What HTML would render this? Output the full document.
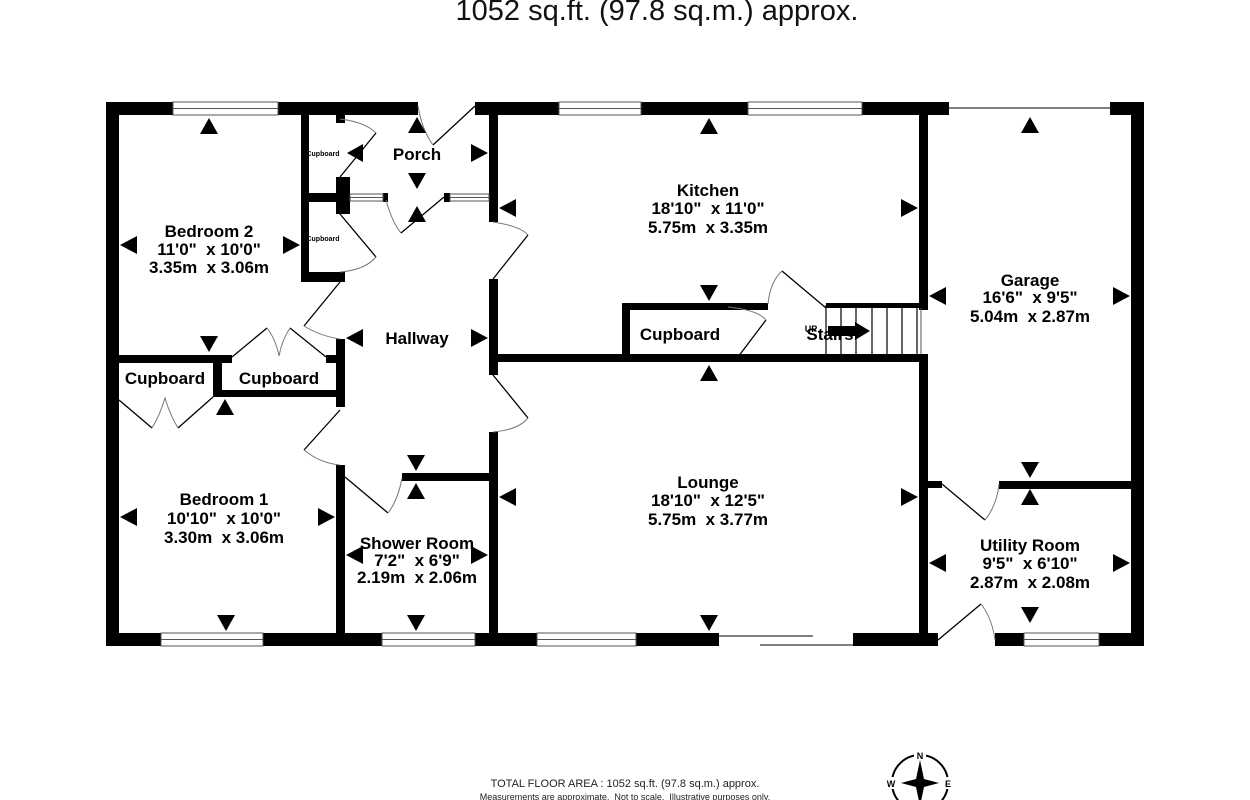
<!DOCTYPE html>
<html><head><meta charset="utf-8"><style>
html,body{margin:0;padding:0;background:#fff;}
svg{display:block;}
text{font-family:"Liberation Sans",sans-serif;white-space:pre;}
.r{font-weight:bold;font-size:17px;text-anchor:middle;fill:#000;}
</style></head><body>
<svg width="1250" height="800" viewBox="0 0 1250 800" xmlns="http://www.w3.org/2000/svg" xml:space="preserve">
<rect width="1250" height="800" fill="#fff"/>
<text x="657" y="20" font-size="29" text-anchor="middle" fill="#111">1052 sq.ft. (97.8 sq.m.) approx.</text>

<g fill="#000">
<rect x="106" y="102" width="67" height="13"/>
<rect x="278" y="102" width="140" height="13"/>
<rect x="475" y="102" width="84" height="13"/>
<rect x="641" y="102" width="107" height="13"/>
<rect x="862" y="102" width="87" height="13"/>
<rect x="1110" y="102" width="34" height="13"/>
<rect x="106" y="102" width="13" height="544"/>
<rect x="1131" y="102" width="13" height="544"/>
<rect x="106" y="633" width="55" height="13"/>
<rect x="263" y="633" width="119" height="13"/>
<rect x="475" y="633" width="62" height="13"/>
<rect x="636" y="633" width="83" height="13"/>
<rect x="853" y="633" width="85" height="13"/>
<rect x="995" y="633" width="29" height="13"/>
<rect x="1099" y="633" width="45" height="13"/>
<rect x="301" y="102" width="8" height="180"/>
<rect x="301" y="272" width="44" height="10"/>
<rect x="309" y="193" width="41" height="9"/>
<rect x="336" y="177" width="14" height="37"/>
<rect x="336" y="115" width="9" height="8"/>
<rect x="383" y="193" width="5" height="9"/>
<rect x="444" y="193" width="6" height="9"/>
<rect x="489" y="102" width="9" height="120"/>
<rect x="489" y="279" width="9" height="96"/>
<rect x="489" y="432" width="9" height="214"/>
<rect x="119" y="355" width="113" height="8"/>
<rect x="213" y="355" width="9" height="42"/>
<rect x="213" y="390" width="132" height="7"/>
<rect x="326" y="355" width="19" height="8"/>
<rect x="336" y="339" width="9" height="68"/>
<rect x="336" y="465" width="9" height="181"/>
<rect x="402" y="473" width="96" height="8"/>
<rect x="498" y="354" width="430" height="8"/>
<rect x="622" y="303" width="146" height="7"/>
<rect x="622" y="303" width="8" height="55"/>
<rect x="826" y="303" width="100" height="5"/>
<rect x="919" y="102" width="9" height="208"/>
<rect x="919" y="354" width="9" height="292"/>
<rect x="928" y="481" width="14" height="7"/>
<rect x="999" y="481" width="132" height="8"/>
</g>

<g fill="#fff" stroke="#555" stroke-width="1">
<rect x="173" y="102" width="105" height="13"/>
<rect x="559" y="102" width="82" height="13"/>
<rect x="748" y="102" width="114" height="13"/>
<rect x="161" y="633" width="102" height="13"/>
<rect x="382" y="633" width="93" height="13"/>
<rect x="537" y="633" width="99" height="13"/>
<rect x="1024" y="633" width="75" height="13"/>
<rect x="350" y="194" width="33" height="7"/>
<rect x="450" y="194" width="39" height="7"/>
</g>
<g stroke="#555" stroke-width="1">
<line x1="173" y1="108.5" x2="278" y2="108.5"/>
<line x1="559" y1="108.5" x2="641" y2="108.5"/>
<line x1="748" y1="108.5" x2="862" y2="108.5"/>
<line x1="161" y1="639.5" x2="263" y2="639.5"/>
<line x1="382" y1="639.5" x2="475" y2="639.5"/>
<line x1="537" y1="639.5" x2="636" y2="639.5"/>
<line x1="1024" y1="639.5" x2="1099" y2="639.5"/>
<line x1="350" y1="197.5" x2="383" y2="197.5"/>
<line x1="450" y1="197.5" x2="489" y2="197.5"/>
<line x1="949" y1="108" x2="1110" y2="108" stroke-width="1.5"/>
<line x1="719" y1="636" x2="813" y2="636" stroke="#000"/>
<line x1="760" y1="645" x2="853" y2="645" stroke="#000"/>
<line x1="921" y1="308" x2="921" y2="354"/>
</g>

<g stroke="#000" stroke-width="1.3" fill="none">
<line x1="475" y1="106" x2="433" y2="145"/>
<path d="M418 106 Q422 130 433 145" stroke="#777" stroke-width="1"/>
<line x1="340" y1="177" x2="376" y2="133"/>
<path d="M340 119 Q365 122 376 133" stroke="#777" stroke-width="1"/>
<line x1="340" y1="214" x2="376" y2="257"/>
<path d="M340 272 Q365 270 376 257" stroke="#777" stroke-width="1"/>
<path d="M386 200 Q392 222 401 233" stroke="#777" stroke-width="1"/>
<line x1="401" y1="233" x2="444" y2="197"/>
<line x1="493" y1="279" x2="528" y2="235"/>
<path d="M493 222 Q520 226 528 235" stroke="#777" stroke-width="1"/>
<line x1="340" y1="282" x2="304" y2="326"/>
<path d="M304 326 Q320 336 340 339" stroke="#777" stroke-width="1"/>
<line x1="232" y1="357" x2="267" y2="328"/>
<line x1="326" y1="357" x2="290" y2="328"/>
<path d="M267 328 Q276 340 279 356 Q282 340 290 328" stroke="#777" stroke-width="1"/>
<line x1="119" y1="400" x2="152" y2="428"/>
<line x1="213" y1="397" x2="178" y2="428"/>
<path d="M152 428 Q160 415 165 398 Q170 415 178 428" stroke="#777" stroke-width="1"/>
<line x1="340" y1="410" x2="304" y2="450"/>
<path d="M304 450 Q320 463 340 465" stroke="#777" stroke-width="1"/>
<line x1="493" y1="375" x2="528" y2="418"/>
<path d="M528 418 Q518 430 493 432" stroke="#777" stroke-width="1"/>
<line x1="345" y1="477" x2="388" y2="513"/>
<path d="M388 513 Q398 500 402 478" stroke="#777" stroke-width="1"/>
<line x1="738" y1="357" x2="766" y2="320"/>
<path d="M728 307 Q758 310 766 320" stroke="#777" stroke-width="1"/>
<line x1="782" y1="271" x2="826" y2="308"/>
<path d="M768 304 Q770 282 782 271" stroke="#777" stroke-width="1"/>
<line x1="942" y1="484" x2="985" y2="520"/>
<path d="M985 520 Q997 505 999 484" stroke="#777" stroke-width="1"/>
<line x1="938" y1="640" x2="981" y2="604"/>
<path d="M981 604 Q992 618 995 640" stroke="#777" stroke-width="1"/>
</g>

<g stroke="#000" stroke-width="1.2">
<line x1="826" y1="305" x2="826" y2="354"/>
<line x1="841" y1="305" x2="841" y2="354"/>
<line x1="856" y1="305" x2="856" y2="354"/>
<line x1="872" y1="305" x2="872" y2="354"/>
<line x1="887" y1="305" x2="887" y2="354"/>
<line x1="902" y1="305" x2="902" y2="354"/>
<line x1="917" y1="305" x2="917" y2="354"/>
</g>
<polygon points="828,326 855,326 855,322 870,331 855,340 855,336 828,336" fill="#000"/>

<g fill="#000">
<polygon points="209,118 200,134 218,134"/>
<polygon points="709,118 700,134 718,134"/>
<polygon points="1030,117 1021,133 1039,133"/>
<polygon points="417,117 408,133 426,133"/>
<polygon points="417,206 408,222 426,222"/>
<polygon points="225,399 216,415 234,415"/>
<polygon points="416,483 407,499 425,499"/>
<polygon points="709,365 700,381 718,381"/>
<polygon points="1030,489 1021,505 1039,505"/>
<polygon points="209,352 200,336 218,336"/>
<polygon points="709,301 700,285 718,285"/>
<polygon points="417,189 408,173 426,173"/>
<polygon points="416,471 407,455 425,455"/>
<polygon points="1030,478 1021,462 1039,462"/>
<polygon points="226,631 217,615 235,615"/>
<polygon points="416,631 407,615 425,615"/>
<polygon points="709,631 700,615 718,615"/>
<polygon points="1030,623 1021,607 1039,607"/>
<polygon points="120,245 137,236 137,254"/>
<polygon points="346,338 363,329 363,347"/>
<polygon points="499,208 516,199 516,217"/>
<polygon points="929,296 946,287 946,305"/>
<polygon points="120,517 137,508 137,526"/>
<polygon points="346,555 363,546 363,564"/>
<polygon points="499,497 516,488 516,506"/>
<polygon points="929,563 946,554 946,572"/>
<polygon points="347,153 363,144 363,162"/>
<polygon points="300,245 283,236 283,254"/>
<polygon points="488,153 471,144 471,162"/>
<polygon points="488,338 471,329 471,347"/>
<polygon points="918,208 901,199 901,217"/>
<polygon points="1130,296 1113,287 1113,305"/>
<polygon points="335,517 318,508 318,526"/>
<polygon points="488,555 471,546 471,564"/>
<polygon points="918,497 901,488 901,506"/>
<polygon points="1130,563 1113,554 1113,572"/>
</g>

<text class="r" x="209" y="237">Bedroom 2</text>
<text class="r" x="209" y="255">11'0"  x 10'0"</text>
<text class="r" x="209" y="273">3.35m  x 3.06m</text>
<text class="r" x="417" y="160">Porch</text>
<text class="r" x="708" y="196">Kitchen</text>
<text class="r" x="708" y="214">18'10"  x 11'0"</text>
<text class="r" x="708" y="233">5.75m  x 3.35m</text>
<text class="r" x="1030" y="286">Garage</text>
<text class="r" x="1030" y="303">16'6"  x 9'5"</text>
<text class="r" x="1030" y="322">5.04m  x 2.87m</text>
<text class="r" x="417" y="344">Hallway</text>
<text class="r" x="165" y="384">Cupboard</text>
<text class="r" x="279" y="384">Cupboard</text>
<text class="r" x="680" y="340">Cupboard</text>
<text x="323" y="156" font-size="7" font-weight="bold" text-anchor="middle">Cupboard</text>
<text x="323" y="241" font-size="7" font-weight="bold" text-anchor="middle">Cupboard</text>
<text class="r" x="224" y="505">Bedroom 1</text>
<text class="r" x="224" y="524">10'10"  x 10'0"</text>
<text class="r" x="224" y="543">3.30m  x 3.06m</text>
<text class="r" x="417" y="549" font-size="15">Shower Room</text>
<text class="r" x="417" y="566" font-size="15">7'2"  x 6'9"</text>
<text class="r" x="417" y="583" font-size="15">2.19m  x 2.06m</text>
<text class="r" x="708" y="488">Lounge</text>
<text class="r" x="708" y="506">18'10"  x 12'5"</text>
<text class="r" x="708" y="525">5.75m  x 3.77m</text>
<text class="r" x="1030" y="551">Utility Room</text>
<text class="r" x="1030" y="569">9'5"  x 6'10"</text>
<text class="r" x="1030" y="588">2.87m  x 2.08m</text>
<text class="r" x="830" y="340">Stairs</text>
<text x="811" y="332" font-size="9" font-weight="bold" text-anchor="middle">UP</text>

<text x="625" y="787" font-size="11" text-anchor="middle" fill="#222">TOTAL FLOOR AREA : 1052 sq.ft. (97.8 sq.m.) approx.</text>
<text x="625" y="800" font-size="9" text-anchor="middle" fill="#222">Measurements are approximate.  Not to scale.  Illustrative purposes only.</text>

<g>
<circle cx="920" cy="783" r="28" fill="none" stroke="#000" stroke-width="2"/>
<rect x="914" y="748" width="12" height="12" fill="#fff"/>
<rect x="886" y="777" width="12" height="12" fill="#fff"/>
<rect x="942" y="777" width="12" height="12" fill="#fff"/>
<polygon points="920,760 924,779 939,783 924,787 920,806 916,787 901,783 916,779" fill="#000"/>
<text x="920" y="759" font-size="9" font-weight="bold" text-anchor="middle">N</text>
<text x="891" y="787" font-size="9" font-weight="bold" text-anchor="middle">W</text>
<text x="948" y="787" font-size="9" font-weight="bold" text-anchor="middle">E</text>
</g>
</svg>
</body></html>
